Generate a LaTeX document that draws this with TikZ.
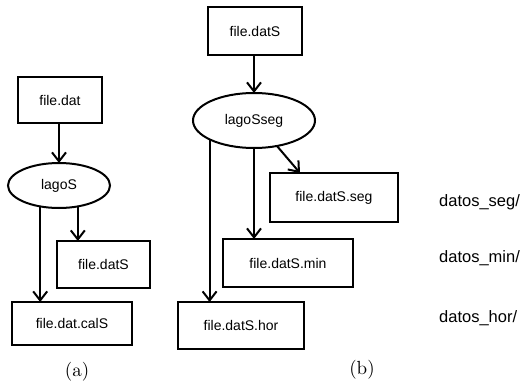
\documentclass[tikz,border=0pt]{standalone}
\usepackage{fontspec}
\setsansfont{Liberation Sans}
\newfontfamily\capfont{lmroman10-regular}[Extension=.otf]
\usetikzlibrary{shapes.geometric,arrows.meta}
\tikzset{
  fbox/.style={draw, line width=2pt, rectangle, inner sep=0pt, outer sep=0pt,
    font=\sffamily\fontsize{14}{16}\selectfont},
  fell/.style={draw, line width=2pt, ellipse, inner sep=0pt, outer sep=0pt,
    font=\sffamily\fontsize{14}{16}\selectfont},
  arr/.style={line width=2pt, -{Straight Barb[length=9pt,width=14pt,line width=2pt]}},
  dirlabel/.style={anchor=west, inner sep=0pt, font=\sffamily\fontsize{16.5}{18}\selectfont},
  captext/.style={inner sep=0pt, font=\capfont\fontsize{19}{21}\selectfont}
}
\begin{document}
\begin{tikzpicture}[x=1pt,y=-1pt]
\useasboundingbox (0,0) rectangle (521,385);
% panel (a)
\node[fbox, minimum width=84pt, minimum height=46pt] (adat) at (60,100) {file.dat};
\node[fell, minimum width=102pt, minimum height=45pt] (alago) at (59,185.5) {lagoS};
\node[fbox, minimum width=93pt, minimum height=47pt] (adatS) at (103.5,264.5) {file.datS};
\node[fbox, minimum width=120pt, minimum height=43pt] (acal) at (72,323.5) {file.dat.calS};
\draw[arr] (adat.south -| alago.north) -- (alago.north);
\draw[arr] (alago.228) -- (alago.228 |- acal.north);
\draw[arr] (alago.312) -- (alago.312 |- adatS.north);
\node[captext] (capa) at (77,372) {(a)};
% panel (b)
\node[fbox, minimum width=94pt, minimum height=48pt] (bdat) at (255,31) {file.datS};
\node[fell, minimum width=122pt, minimum height=55pt] (blago) at (254,120.5) {lagoSseg};
\node[fbox, minimum width=128pt, minimum height=49pt] (bseg) at (334,197.5) {file.datS.seg};
\node[fbox, minimum width=130pt, minimum height=48pt] (bmin) at (288,263) {file.datS.min};
\node[fbox, minimum width=126pt, minimum height=47pt] (bhor) at (241,325.5) {file.datS.hor};
\draw[arr] (bdat.south -| blago.north) -- (blago.north);
\draw[arr] (blago.203) -- (blago.203 |- bhor.north);
\draw[arr] (blago.south) -- (blago.south |- bmin.north);
\draw[arr] (blago.312) -- ([xshift=30pt]bseg.north west);
\node[captext] (capb) at (362,370) {(b)};
% directory labels
\node[dirlabel] (dseg) at (439,202) {datos\_seg/};
\node[dirlabel] (dmin) at (439,258) {datos\_min/};
\node[dirlabel] (dhor) at (439,318) {datos\_hor/};
\end{tikzpicture}
\end{document}
